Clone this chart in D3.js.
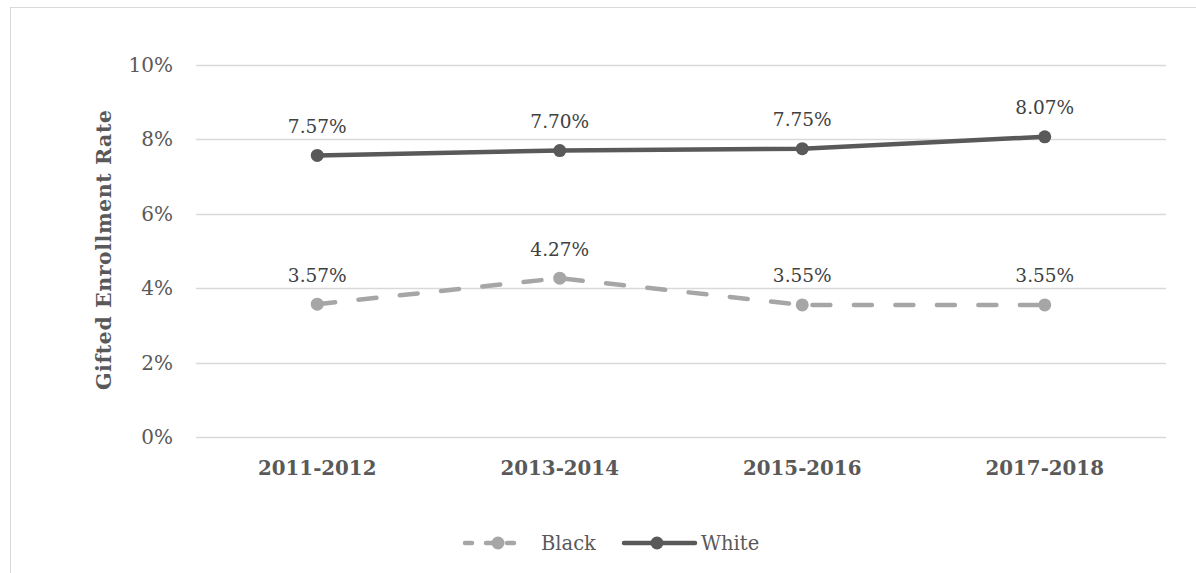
<!DOCTYPE html>
<html><head><meta charset="utf-8">
<script src="https://cdn.jsdelivr.net/npm/d3@7"></script>
<style>body{margin:0;background:#fff}svg{display:block}</style>
</head><body><svg id="c" width="1196" height="573"></svg>
<script>
const categories = ["2011-2012","2013-2014","2015-2016","2017-2018"];
const blackValues = [3.57, 4.27, 3.55, 3.55];
const whiteValues = [7.57, 7.70, 7.75, 8.07];
const yTicks = [0,2,4,6,8,10];
const seriesNames = ["Black","White"];

const FONT = "'DejaVu Serif', serif";
const svg = d3.select("#c");
// outer chart frame
svg.append("rect").attr("x",10.5).attr("y",7.5).attr("width",1200).attr("height",600)
  .attr("fill","none").attr("stroke","#d9d9d9").attr("stroke-width",1);

const x = d3.scaleBand().domain(categories).range([196,1166]);
const y = d3.scaleLinear().domain([0,10]).range([437,65]);

// gridlines
svg.append("g").selectAll("line").data(yTicks).join("line")
  .attr("x1",196).attr("x2",1166).attr("y1",d=>Math.round(y(d))+0.5).attr("y2",d=>Math.round(y(d))+0.5)
  .attr("stroke","#d9d9d9").attr("stroke-width",1.3);

// y axis labels
svg.append("g").selectAll("text").data(yTicks).join("text")
  .attr("x",173).attr("y",d=>y(d)).attr("dy","0.35em").attr("text-anchor","end")
  .attr("font-family",FONT).attr("font-size",20).attr("fill","#595959")
  .text(d=>d+"%");

// x axis labels
svg.append("g").selectAll("text").data(categories).join("text")
  .attr("x",d=>x(d)+x.bandwidth()/2).attr("y",468).attr("dy","0.35em").attr("text-anchor","middle")
  .attr("font-family",FONT).attr("font-size",19.8).attr("font-weight","bold").attr("fill","#595959")
  .text(d=>d);

// y axis title
svg.append("text").attr("transform","translate(104,250) rotate(-90)")
  .attr("text-anchor","middle").attr("dy","0.35em")
  .attr("font-family",FONT).attr("font-size",20.5).attr("font-weight","bold").attr("fill","#595959")
  .attr("textLength",280).attr("lengthAdjust","spacing")
  .text("Gifted Enrollment Rate");

const cx = d => x(d)+x.bandwidth()/2;
const series = [
  {name:seriesNames[0], values:blackValues, color:"#a6a6a6", dash:"18,23.5"},
  {name:seriesNames[1], values:whiteValues, color:"#595959", dash:null}
];
const line = d3.line().x(d=>cx(d.c)).y(d=>y(d.v));
series.forEach(s=>{
  const pts = categories.map((c,i)=>({c, v:s.values[i]}));
  svg.append("path").datum(pts).attr("d",line).attr("fill","none")
    .attr("stroke",s.color).attr("stroke-width",4.5).attr("stroke-linecap","round").attr("stroke-linejoin","round")
    .attr("stroke-dasharray",s.dash);
  svg.append("g").selectAll("circle").data(pts).join("circle")
    .attr("cx",d=>cx(d.c)).attr("cy",d=>y(d.v)).attr("r",6.5).attr("fill",s.color);
  svg.append("g").selectAll("text").data(pts).join("text")
    .attr("x",d=>cx(d.c)).attr("y",d=>y(d.v)-29).attr("dy","0.35em").attr("text-anchor","middle")
    .attr("font-family",FONT).attr("font-size",18.5).attr("fill","#404040")
    .text(d=>d.v.toFixed(2)+"%");
});

// legend
const legend = [
  {name:seriesNames[0], color:"#a6a6a6", x1:465, x2:528, mx:498, tx:541, dash:"7,14"},
  {name:seriesNames[1], color:"#595959", x1:624, x2:695, mx:657, tx:701, dash:null}
];
const lg = svg.append("g");
legend.forEach(l=>{
  lg.append("line").attr("x1",l.x1).attr("x2",l.x2).attr("y1",543).attr("y2",543)
    .attr("stroke",l.color).attr("stroke-width",4.5).attr("stroke-linecap","round").attr("stroke-dasharray",l.dash);
  lg.append("circle").attr("cx",l.mx).attr("cy",543).attr("r",6.5).attr("fill",l.color);
  lg.append("text").attr("x",l.tx).attr("y",543).attr("dy","0.35em")
    .attr("font-family",FONT).attr("font-size",19.5).attr("fill","#595959").text(l.name);
});
</script></body></html>
